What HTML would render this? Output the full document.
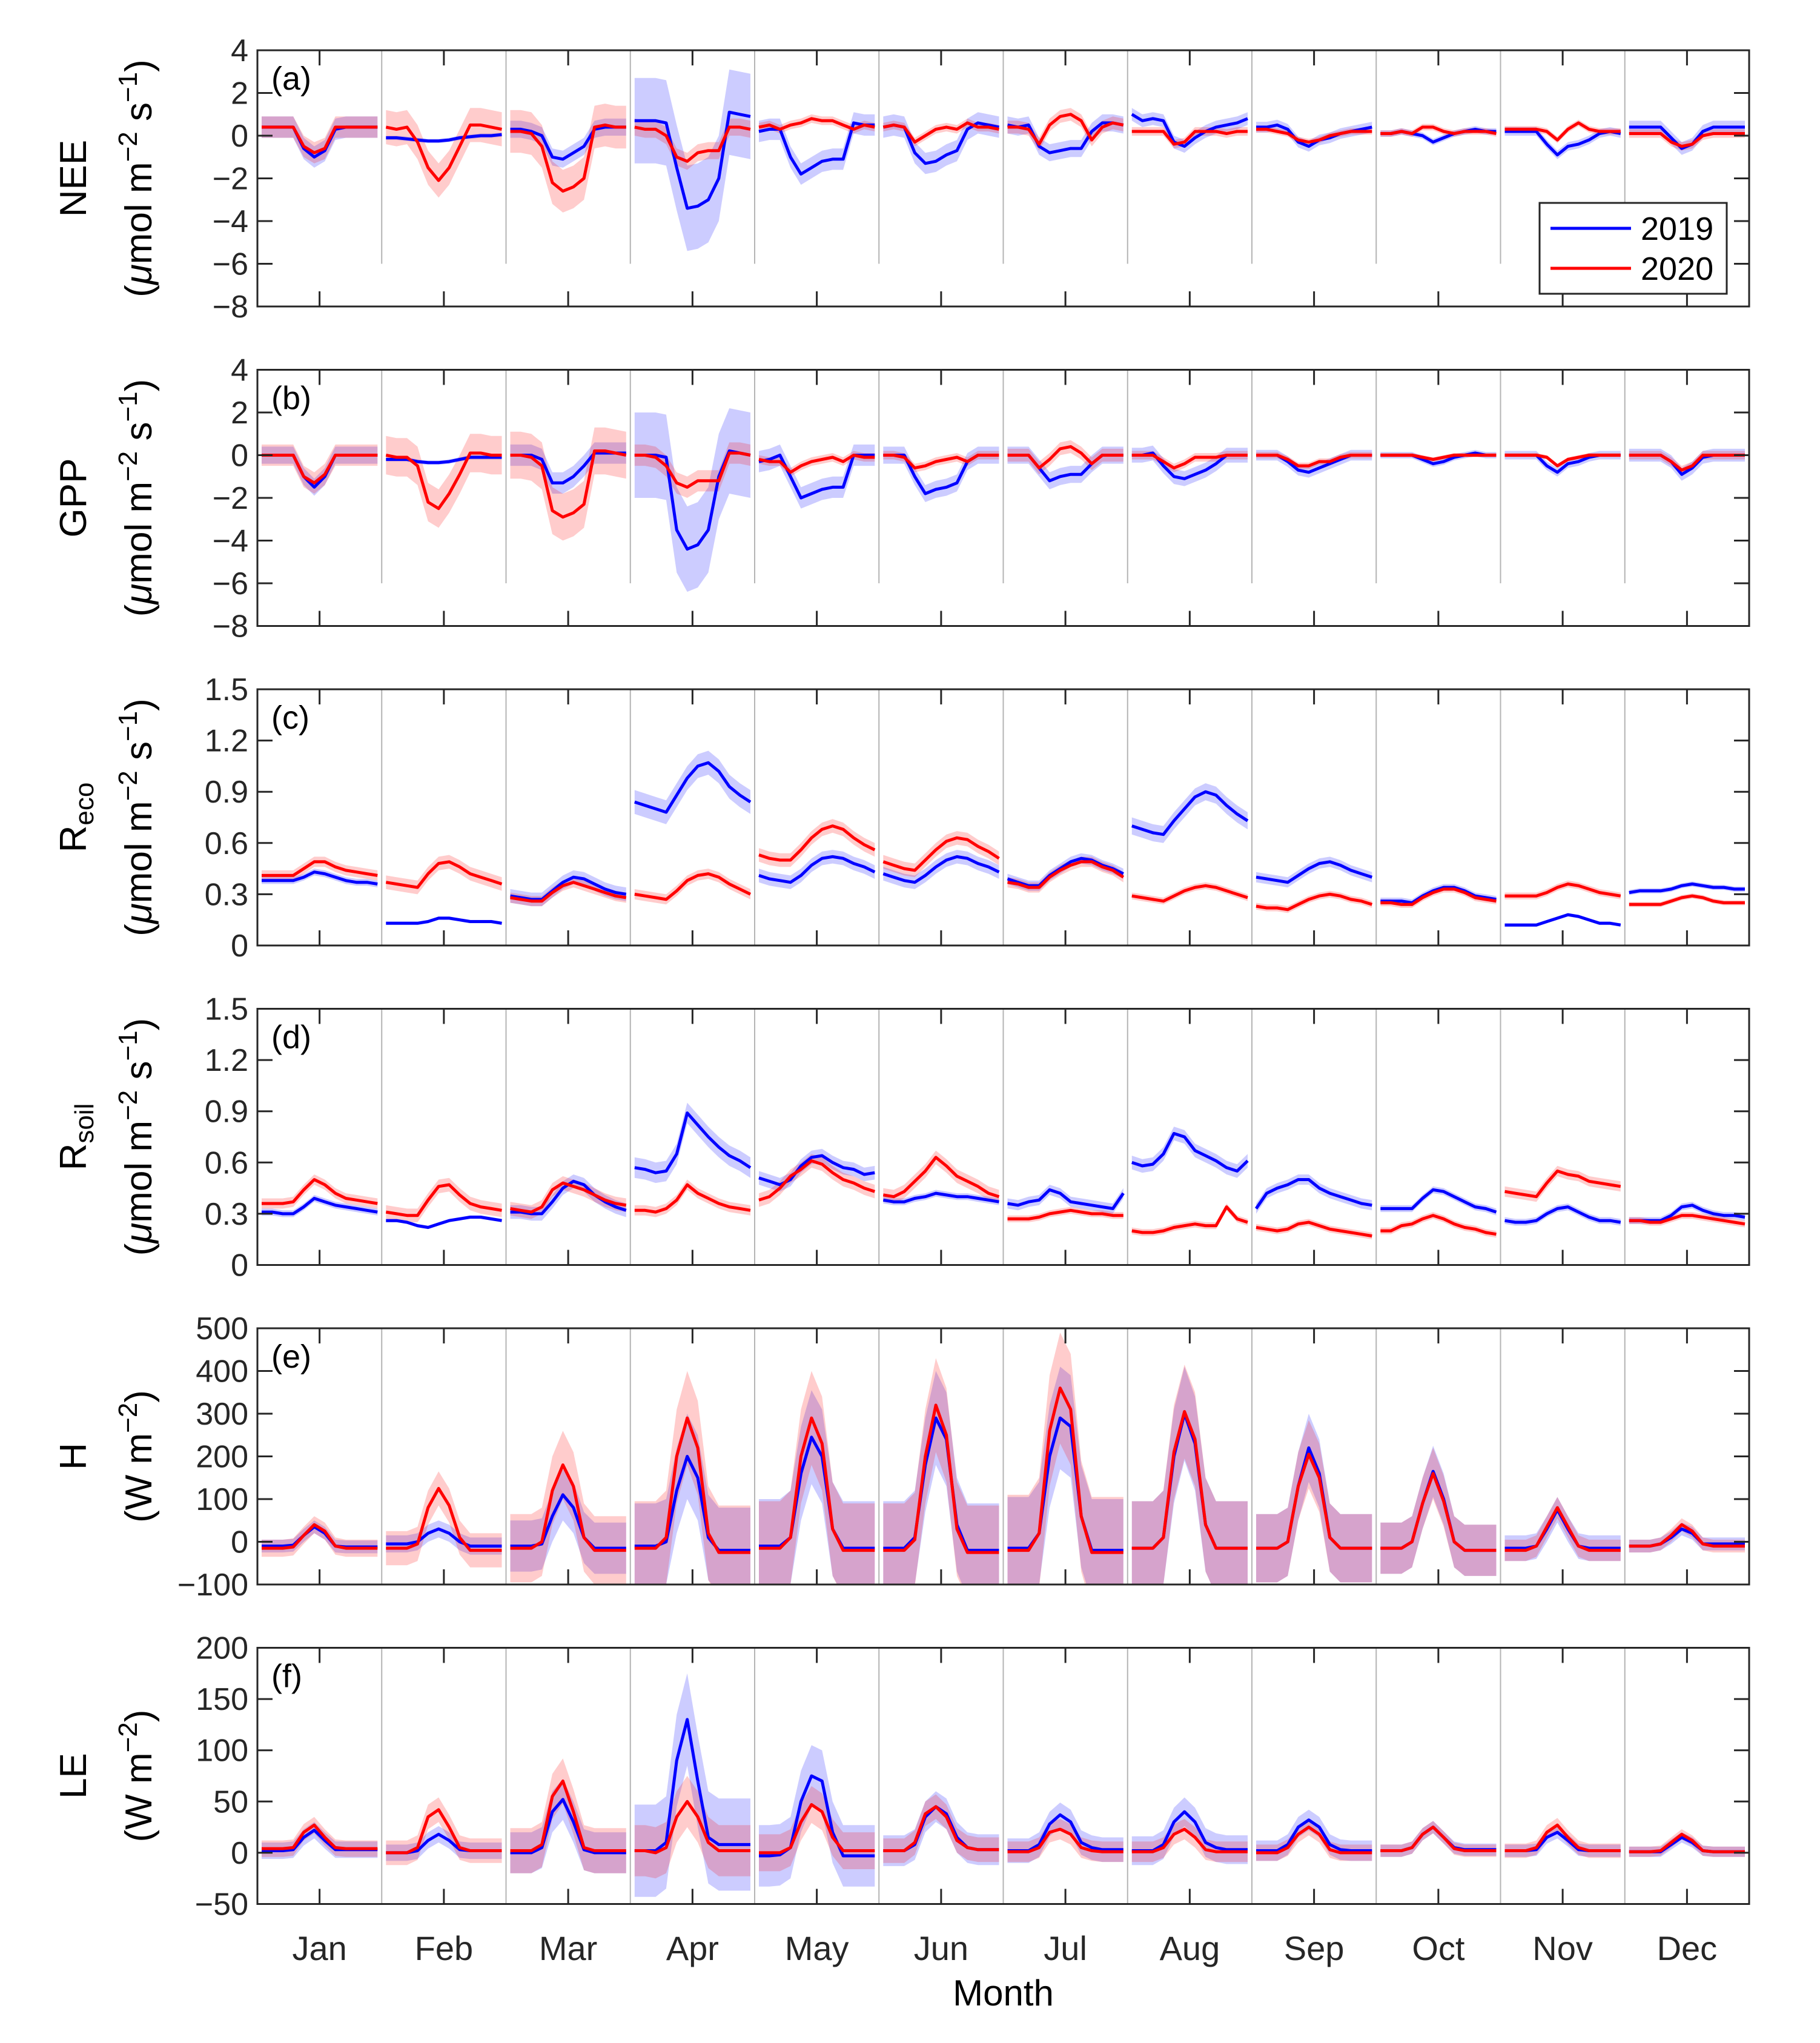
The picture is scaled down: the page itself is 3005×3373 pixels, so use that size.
<!DOCTYPE html>
<html><head><meta charset="utf-8"><title>Flux diurnal cycles</title>
<style>
html,body{margin:0;padding:0;background:#fff;}
svg{display:block;font-family:"Liberation Sans",Arial,sans-serif;}
</style></head>
<body>
<svg id="chart" width="3005" height="3373" viewBox="0 0 3005 3373" xmlns="http://www.w3.org/2000/svg">
<rect x="0" y="0" width="3005" height="3373" fill="#fff"/>
</svg>
<script>
const months = ["Jan","Feb","Mar","Apr","May","Jun","Jul","Aug","Sep","Oct","Nov","Dec"];
const panelNames = ["nee","gpp","reco","rsoil","h","le"];
const panelLetters = ["(a)","(b)","(c)","(d)","(e)","(f)"];
const yMin = [-8,-8,0,0,-100,-50];
const yMax = [4,4,1.5,1.5,500,200];
const yTicks = [[-8,-6,-4,-2,0,2,4],[-8,-6,-4,-2,0,2,4],[0,0.3,0.6,0.9,1.2,1.5],[0,0.3,0.6,0.9,1.2,1.5],[-100,0,100,200,300,400,500],[-50,0,50,100,150,200]];
const yTickLabels = [["−8","−6","−4","−2","0","2","4"],["−8","−6","−4","−2","0","2","4"],["0","0.3","0.6","0.9","1.2","1.5"],["0","0.3","0.6","0.9","1.2","1.5"],["−100","0","100","200","300","400","500"],["−50","0","50","100","150","200"]];
const dividerBottom = [-6,-6,0,0,-100,-50];

// NEE
const nee2019 = [
[0.4,0.4,0.4,0.4,-0.6,-1.0,-0.7,0.3,0.4,0.4,0.4,0.4],
[-0.1,-0.1,-0.15,-0.2,-0.25,-0.25,-0.2,-0.1,-0.05,0,0,0.05],
[0.3,0.3,0.2,0,-1.0,-1.1,-0.8,-0.5,0.3,0.4,0.4,0.4],
[0.7,0.7,0.7,0.6,-1.5,-3.4,-3.3,-3.0,-2.0,1.1,1.0,0.9],
[0.2,0.3,0.3,-1.0,-1.8,-1.5,-1.2,-1.1,-1.1,0.6,0.5,0.5],
[0.4,0.5,0.4,-0.8,-1.3,-1.2,-0.9,-0.7,0.3,0.6,0.5,0.4],
[0.5,0.4,0.5,-0.5,-0.8,-0.7,-0.6,-0.6,0.2,0.6,0.6,0.5],
[1.0,0.7,0.8,0.7,-0.3,-0.5,-0.1,0.2,0.4,0.5,0.6,0.8],
[0.4,0.4,0.5,0.3,-0.3,-0.5,-0.2,-0.1,0.1,0.2,0.3,0.4],
[0.1,0.1,0.2,0.1,0,-0.3,-0.1,0.1,0.2,0.3,0.2,0.2],
[0.2,0.2,0.2,0.2,-0.4,-0.9,-0.5,-0.4,-0.2,0.1,0.2,0.1],
[0.4,0.4,0.4,0.4,-0.1,-0.6,-0.4,0.2,0.4,0.4,0.4,0.4]];
const nee2020 = [
[0.4,0.4,0.4,0.4,-0.5,-0.8,-0.6,0.4,0.4,0.4,0.4,0.4],
[0.4,0.3,0.4,-0.3,-1.5,-2.1,-1.5,-0.5,0.5,0.5,0.4,0.3],
[0.2,0.2,0.1,-0.5,-2.2,-2.6,-2.4,-2.0,0.4,0.5,0.4,0.4],
[0.4,0.3,0.3,0,-1.0,-1.2,-0.8,-0.7,-0.7,0.4,0.4,0.3],
[0.4,0.5,0.3,0.5,0.6,0.8,0.7,0.7,0.5,0.3,0.5,0.4],
[0.4,0.5,0.4,-0.3,0,0.3,0.4,0.3,0.6,0.4,0.4,0.3],
[0.4,0.4,0.3,-0.4,0.5,0.9,1.0,0.7,-0.2,0.4,0.6,0.5],
[0.2,0.2,0.2,0.2,-0.4,-0.3,0.2,0.2,0.2,0.1,0.2,0.2],
[0.3,0.3,0.2,0.1,-0.2,-0.3,-0.2,0,0.1,0.2,0.2,0.2],
[0.1,0.1,0.2,0.1,0.4,0.4,0.2,0.1,0.2,0.2,0.2,0.1],
[0.3,0.3,0.3,0.3,0.2,-0.2,0.3,0.6,0.3,0.2,0.2,0.2],
[0.1,0.1,0.1,0.1,-0.3,-0.5,-0.4,0,0.1,0.1,0.1,0.1]];
const neeBand2019 = [0.5,0.1,0.4,2.0,0.5,0.5,0.4,0.3,0.25,0.15,0.2,0.3];
const neeBand2020 = [0.5,0.8,1.0,0.4,0.2,0.2,0.3,0.2,0.15,0.15,0.15,0.2];

// GPP
const gpp2019 = [
[0,0,0,0,-1.0,-1.5,-1.0,0,0,0,0,0],
[-0.2,-0.2,-0.2,-0.3,-0.35,-0.35,-0.3,-0.2,-0.1,-0.1,-0.1,-0.1],
[0,0,0,-0.2,-1.3,-1.3,-1.0,-0.5,0.1,0.1,0.1,0.1],
[0,0,0,-0.1,-3.5,-4.4,-4.2,-3.5,-1.0,0.2,0.1,0],
[-0.3,-0.2,0,-1.0,-2.0,-1.8,-1.6,-1.5,-1.5,0,0,0],
[0,0,0,-1.0,-1.8,-1.6,-1.5,-1.3,-0.3,0,0,0],
[0,0,0,-0.6,-1.2,-1.0,-0.9,-0.9,-0.4,0,0,0],
[0,0,0.1,-0.5,-1.0,-1.1,-0.9,-0.7,-0.4,0,0,0],
[0,0,0,-0.3,-0.7,-0.8,-0.6,-0.4,-0.2,0,0,0],
[0,0,0,0,-0.2,-0.4,-0.3,-0.1,0,0.1,0,0],
[0,0,0,0,-0.5,-0.8,-0.4,-0.3,-0.1,0,0,0],
[0,0,0,0,-0.3,-0.9,-0.6,-0.1,0,0,0,0]];
const gpp2020 = [
[0,0,0,0,-1.0,-1.3,-0.9,0,0,0,0,0],
[0,-0.1,-0.1,-0.5,-2.2,-2.5,-1.8,-0.9,0.1,0.1,0,0],
[0,0,-0.1,-0.5,-2.6,-2.9,-2.7,-2.3,0.2,0.2,0.1,0],
[0,0,-0.1,-0.5,-1.3,-1.5,-1.2,-1.2,-1.2,0.1,0.1,0],
[-0.2,-0.3,-0.3,-0.8,-0.5,-0.3,-0.2,-0.1,-0.3,0,-0.1,-0.1],
[0,0,-0.1,-0.6,-0.5,-0.3,-0.2,-0.1,-0.3,0,0,0],
[0,0,0,-0.6,-0.2,0.3,0.4,0.1,-0.4,0,0,0],
[0,0,0,-0.3,-0.6,-0.4,-0.1,-0.1,-0.1,0,0,0],
[0,0,0,-0.2,-0.5,-0.5,-0.3,-0.3,-0.1,0,0,0],
[0,0,0,0,-0.1,-0.2,-0.1,0,0,0,0,0],
[0,0,0,0,-0.1,-0.5,-0.2,-0.1,0,0,0,0],
[0,0,0,0,-0.3,-0.7,-0.5,0,0,0,0,0]];
const gppBand2019 = [0.4,0.1,0.5,2.0,0.5,0.4,0.4,0.35,0.25,0.15,0.2,0.3];
const gppBand2020 = [0.5,0.9,1.1,0.5,0.2,0.2,0.3,0.2,0.15,0.1,0.1,0.2];

// Reco
const reco2019 = [
[.38,.38,.38,.38,.40,.43,.42,.40,.38,.37,.37,.36],
[.13,.13,.13,.13,.14,.16,.16,.15,.14,.14,.14,.13],
[.29,.28,.27,.27,.32,.37,.40,.39,.36,.33,.31,.30],
[.84,.82,.80,.78,.88,.98,1.05,1.07,1.02,.93,.88,.84],
[.41,.39,.38,.37,.41,.47,.51,.52,.51,.48,.46,.43],
[.42,.40,.38,.37,.41,.46,.50,.52,.51,.48,.46,.43],
[.39,.37,.35,.35,.41,.45,.49,.51,.50,.47,.45,.42],
[.70,.68,.66,.65,.73,.80,.87,.90,.88,.82,.77,.73],
[.40,.39,.38,.37,.41,.45,.48,.49,.47,.44,.42,.40],
[.26,.26,.26,.25,.29,.32,.34,.34,.32,.29,.28,.27],
[.12,.12,.12,.12,.14,.16,.18,.17,.15,.13,.13,.12],
[.31,.32,.32,.32,.33,.35,.36,.35,.34,.34,.33,.33]];
const reco2020 = [
[.41,.41,.41,.41,.45,.49,.49,.46,.44,.43,.42,.41],
[.37,.36,.35,.34,.42,.48,.49,.46,.42,.40,.38,.36],
[.28,.27,.26,.26,.31,.35,.37,.35,.33,.31,.29,.28],
[.30,.29,.28,.27,.32,.38,.41,.42,.40,.36,.33,.30],
[.53,.51,.50,.50,.56,.63,.68,.70,.68,.63,.59,.56],
[.49,.47,.45,.44,.50,.56,.61,.63,.62,.58,.55,.51],
[.37,.36,.34,.34,.40,.44,.47,.49,.49,.46,.44,.40],
[.29,.28,.27,.26,.29,.32,.34,.35,.34,.32,.30,.28],
[.23,.22,.22,.21,.24,.27,.29,.30,.29,.27,.26,.24],
[.25,.25,.24,.24,.28,.31,.33,.33,.31,.28,.27,.26],
[.29,.29,.29,.29,.31,.34,.36,.35,.33,.31,.30,.29],
[.24,.24,.24,.24,.26,.28,.29,.28,.26,.25,.25,.25]];
const recoBand2019 = [.02,.01,.04,.07,.04,.04,.03,.05,.03,.02,.01,.015];
const recoBand2020 = [.03,.04,.03,.03,.04,.04,.03,.02,.02,.02,.02,.015];

// Rsoil
const rsoil2019 = [
[.31,.31,.30,.30,.34,.39,.37,.35,.34,.33,.32,.31],
[.26,.26,.25,.23,.22,.24,.26,.27,.28,.28,.27,.26],
[.31,.31,.30,.30,.37,.45,.49,.47,.41,.37,.34,.32],
[.57,.56,.54,.55,.65,.89,.82,.75,.69,.64,.61,.57],
[.51,.49,.47,.50,.58,.63,.64,.60,.57,.56,.53,.54],
[.38,.37,.37,.39,.40,.42,.41,.40,.40,.39,.38,.37],
[.36,.35,.37,.38,.44,.42,.37,.36,.35,.34,.33,.42],
[.60,.58,.59,.65,.77,.75,.67,.64,.61,.57,.55,.61],
[.33,.42,.45,.47,.50,.50,.45,.42,.40,.38,.36,.35],
[.33,.33,.33,.33,.39,.44,.43,.40,.37,.34,.33,.31],
[.26,.25,.25,.26,.30,.33,.34,.31,.28,.26,.26,.25],
[.26,.26,.26,.26,.29,.34,.35,.32,.30,.29,.29,.28]];
const rsoil2020 = [
[.36,.36,.36,.37,.44,.50,.47,.42,.39,.38,.37,.36],
[.31,.30,.29,.29,.38,.46,.47,.41,.36,.34,.33,.32],
[.33,.32,.31,.34,.44,.48,.46,.44,.41,.38,.36,.35],
[.32,.32,.31,.33,.38,.47,.42,.39,.36,.34,.33,.32],
[.38,.40,.45,.52,.56,.61,.59,.54,.50,.48,.45,.43],
[.41,.40,.43,.49,.55,.63,.58,.52,.49,.46,.42,.40],
[.27,.27,.27,.28,.30,.31,.32,.31,.30,.30,.29,.29],
[.20,.19,.19,.20,.22,.23,.24,.23,.23,.34,.27,.25],
[.22,.21,.20,.21,.24,.25,.23,.21,.20,.19,.18,.17],
[.20,.20,.23,.24,.27,.29,.27,.24,.22,.21,.19,.18],
[.43,.42,.41,.40,.48,.55,.53,.52,.49,.48,.47,.46],
[.26,.26,.25,.25,.27,.29,.29,.28,.27,.26,.25,.24]];
const rsoilBand2019 = [.02,.01,.04,.06,.04,.02,.03,.04,.03,.02,.02,.02];
const rsoilBand2020 = [.03,.04,.04,.03,.04,.04,.02,.02,.02,.02,.03,.02];

// H
const h2019 = [
[-10,-10,-10,-8,15,35,20,-10,-12,-12,-12,-12],
[-5,-5,-5,0,20,30,20,0,-10,-10,-10,-10],
[-10,-10,-10,-5,60,110,80,10,-15,-15,-15,-15],
[-10,-10,-10,0,120,200,150,10,-20,-20,-20,-20],
[-10,-10,-10,10,160,245,200,30,-15,-15,-15,-15],
[-15,-15,-15,10,180,290,240,40,-20,-20,-20,-20],
[-15,-15,-15,20,200,290,270,60,-20,-20,-20,-20],
[-15,-15,-15,10,200,300,230,40,-15,-15,-15,-15],
[-15,-15,-15,0,130,220,160,10,-15,-15,-15,-15],
[-15,-15,-15,0,90,165,100,0,-20,-20,-20,-20],
[-15,-15,-15,-10,30,75,30,-10,-15,-15,-15,-15],
[-10,-10,-10,-5,10,30,20,-5,-5,-5,-5,-5]];
const h2020 = [
[-15,-15,-15,-12,15,40,25,-10,-15,-15,-15,-15],
[-15,-15,-15,-5,80,125,85,10,-20,-20,-20,-20],
[-15,-15,-15,0,120,180,130,10,-20,-20,-20,-20],
[-15,-15,-15,10,200,290,220,20,-25,-25,-25,-25],
[-15,-15,-15,10,200,290,230,30,-20,-20,-20,-20],
[-20,-20,-20,5,200,320,250,30,-25,-25,-25,-25],
[-20,-20,-20,20,260,360,310,60,-25,-25,-25,-25],
[-15,-15,-15,10,210,305,240,40,-15,-15,-15,-15],
[-15,-15,-15,0,130,205,150,10,-15,-15,-15,-15],
[-15,-15,-15,0,90,160,95,0,-20,-20,-20,-20],
[-20,-20,-20,-10,35,80,35,-10,-20,-20,-20,-20],
[-10,-10,-10,-5,15,40,25,-5,-10,-10,-10,-10]];
const hBand2019 = [15,20,60,100,110,110,120,110,80,60,30,15];
const hBand2020 = [20,40,80,110,110,110,130,110,80,60,25,15];

// LE
const le2019 = [
[2,2,2,3,15,22,12,3,3,3,3,3],
[0,0,0,2,12,18,12,3,2,2,2,2],
[0,0,0,5,40,52,30,3,0,0,0,0],
[2,2,2,10,90,130,70,15,8,8,8,8],
[-3,-3,-2,5,50,75,70,20,-3,-3,-3,-3],
[2,2,2,8,35,45,38,15,5,3,3,3],
[2,2,2,8,28,37,30,10,5,3,3,3],
[2,2,2,8,30,40,30,10,5,3,3,3],
[2,2,2,8,25,32,25,8,3,2,2,2],
[2,2,2,5,18,25,15,5,3,3,3,3],
[2,2,2,3,15,20,12,3,2,2,2,2],
[1,1,1,1,8,15,10,2,1,1,1,1]];
const le2020 = [
[4,4,4,5,20,27,15,5,4,4,4,4],
[0,0,0,5,35,42,25,5,2,2,2,2],
[2,2,2,8,55,70,40,5,2,2,2,2],
[2,2,0,5,35,50,35,10,2,2,2,2],
[0,0,0,5,30,47,40,15,2,2,2,2],
[2,2,2,10,38,45,35,12,5,3,3,3],
[1,1,1,5,20,23,18,5,2,1,1,1],
[1,1,1,5,18,23,15,3,1,1,1,1],
[0,0,0,5,18,25,18,3,0,0,0,0],
[2,2,2,5,18,25,15,4,2,2,2,2],
[2,2,2,5,20,27,15,5,2,2,2,2],
[1,1,1,2,10,18,12,2,1,1,1,1]];
const leBand2019 = [8,8,20,45,30,15,12,14,10,6,6,5];
const leBand2020 = [8,12,22,25,18,12,10,10,8,6,7,5];

const series2019 = [nee2019,gpp2019,reco2019,rsoil2019,h2019,le2019];
const series2020 = [nee2020,gpp2020,reco2020,rsoil2020,h2020,le2020];
const bands2019 = [neeBand2019,gppBand2019,recoBand2019,rsoilBand2019,hBand2019,leBand2019];
const bands2020 = [neeBand2020,gppBand2020,recoBand2020,rsoilBand2020,hBand2020,leBand2020];

const NS = "http://www.w3.org/2000/svg";
const svg = document.getElementById('chart');
const X0 = 425, X1 = 2888, MW = (X1 - X0) / 12, PH = 423;
const panelTop = i => 83 + i * 527.5;
function mk(tag, attrs, parent){ const e = document.createElementNS(NS, tag); for (const k in attrs) e.setAttribute(k, attrs[k]); (parent||svg).appendChild(e); return e; }
function xPos(m, k, n){ return X0 + m * MW + 7 + (MW - 14) * k / (n - 1); }

const defs = mk('defs', {});
for (let p = 0; p < 6; p++) {
  const top = panelTop(p), bot = top + PH;
  const yS = v => bot - (v - yMin[p]) / (yMax[p] - yMin[p]) * PH;
  const g = mk('g', {});
  
  
  const cp = mk('clipPath', {id: 'clip' + p}, defs);
  mk('rect', {x: X0, y: top, width: X1 - X0, height: PH}, cp);

  for (let m = 1; m < 12; m++) {
    const l = mk('line', {x1: X0 + m * MW, x2: X0 + m * MW, y1: top, y2: yS(dividerBottom[p]), stroke: '#b4b4b4', 'stroke-width': 2}, g);
    
    
  }
  const dg = mk('g', {'clip-path': 'url(#clip' + p + ')'}, g);
  const drawBand = (data, band, color, year) => {
    for (let m = 0; m < 12; m++) {
      const n = data[m].length; let up = [], dn = [];
      for (let k = 0; k < n; k++) { const x = xPos(m, k, n); up.push(x.toFixed(1) + ',' + yS(data[m][k] + band[m]).toFixed(1)); dn.unshift(x.toFixed(1) + ',' + yS(data[m][k] - band[m]).toFixed(1)); }
      const poly = mk('polygon', {points: up.concat(dn).join(' '), fill: color, 'fill-opacity': 0.2, stroke: 'none'}, dg);
      
      
    }
  };
  const drawLine = (data, color, year) => {
    for (let m = 0; m < 12; m++) {
      const n = data[m].length; let pts = [];
      for (let k = 0; k < n; k++) pts.push(xPos(m, k, n).toFixed(1) + ',' + yS(data[m][k]).toFixed(1));
      const pl = mk('polyline', {points: pts.join(' '), fill: 'none', stroke: color, 'stroke-width': 5, 'stroke-linejoin': 'round'}, dg);
      
      
    }
  };
  drawBand(series2019[p], bands2019[p], '#0000ff', '2019');
  drawBand(series2020[p], bands2020[p], '#ff0000', '2020');
  drawLine(series2019[p], '#0000ff', '2019');
  drawLine(series2020[p], '#ff0000', '2020');

  const box = mk('rect', {x: X0, y: top, width: X1 - X0, height: PH, fill: 'none', stroke: '#262626', 'stroke-width': 3}, g);
  
  
  for (let m = 0; m < 12; m++) {
    const xc = X0 + (m + 0.5) * MW;
    mk('line', {x1: xc, x2: xc, y1: top, y2: top + 25, stroke: '#262626', 'stroke-width': 3}, g);
    mk('line', {x1: xc, x2: xc, y1: bot, y2: bot - 25, stroke: '#262626', 'stroke-width': 3}, g);
  }
  yTicks[p].forEach((v, i) => {
    const y = yS(v);
    mk('line', {x1: X0, x2: X0 + 25, y1: y, y2: y, stroke: '#262626', 'stroke-width': 3}, g);
    mk('line', {x1: X1, x2: X1 - 25, y1: y, y2: y, stroke: '#262626', 'stroke-width': 3}, g);
    const t = mk('text', {x: 410, y: y + 18, 'text-anchor': 'end', 'font-size': 52, fill: '#262626'}, g);
    t.textContent = yTickLabels[p][i];
    
    
  });
  const pl = mk('text', {x: 448, y: top + 65, 'font-size': 54, fill: '#000'}, g);
  pl.textContent = panelLetters[p];
  
  
}

const cy = p => panelTop(p) + PH / 2;
const titles = [
 ['NEE', 'mol'], ['GPP', 'mol'], ['R<tspan font-size="44" baseline-shift="-12">eco</tspan>', 'mol'], ['R<tspan font-size="44" baseline-shift="-12">soil</tspan>', 'mol'], ['H', 'W'], ['LE', 'W']
];
let html = '';
for (let p = 0; p < 6; p++) {
  const c = cy(p);
  const unit = p < 4
    ? '(<tspan font-style="italic">μ</tspan>mol m<tspan font-size="44" baseline-shift="24">−2</tspan> s<tspan font-size="44" baseline-shift="24">−1</tspan>)'
    : '(W m<tspan font-size="44" baseline-shift="24">−2</tspan>)';
  html += `<g font-size="62" fill="#000" text-anchor="middle">
   <text transform="translate(142,${c}) rotate(-90)">${titles[p][0]}</text>
   <text transform="translate(250,${c}) rotate(-90)">${unit}</text></g>`;
}
for (let m = 0; m < 12; m++) {
  html += `<text x="${(X0 + (m + 0.5) * MW).toFixed(1)}" y="3236" text-anchor="middle" font-size="56" fill="#262626">${months[m]}</text>`;
}
html += `<text x="${(X0 + X1) / 2}" y="3311" text-anchor="middle" font-size="60" fill="#000">Month</text>`;
html += `<g>
<rect x="2542" y="335" width="309" height="150" fill="#fff" stroke="#262626" stroke-width="3"/>
<line x1="2560" x2="2693" y1="377" y2="377" stroke="#0000ff" stroke-width="5"/>
<text x="2709" y="396" font-size="54" fill="#000">2019</text>
<line x1="2560" x2="2693" y1="443" y2="443" stroke="#ff0000" stroke-width="5"/>
<text x="2709" y="462" font-size="54" fill="#000">2020</text></g>`;
svg.insertAdjacentHTML('beforeend', html);
</script>
</body></html>
